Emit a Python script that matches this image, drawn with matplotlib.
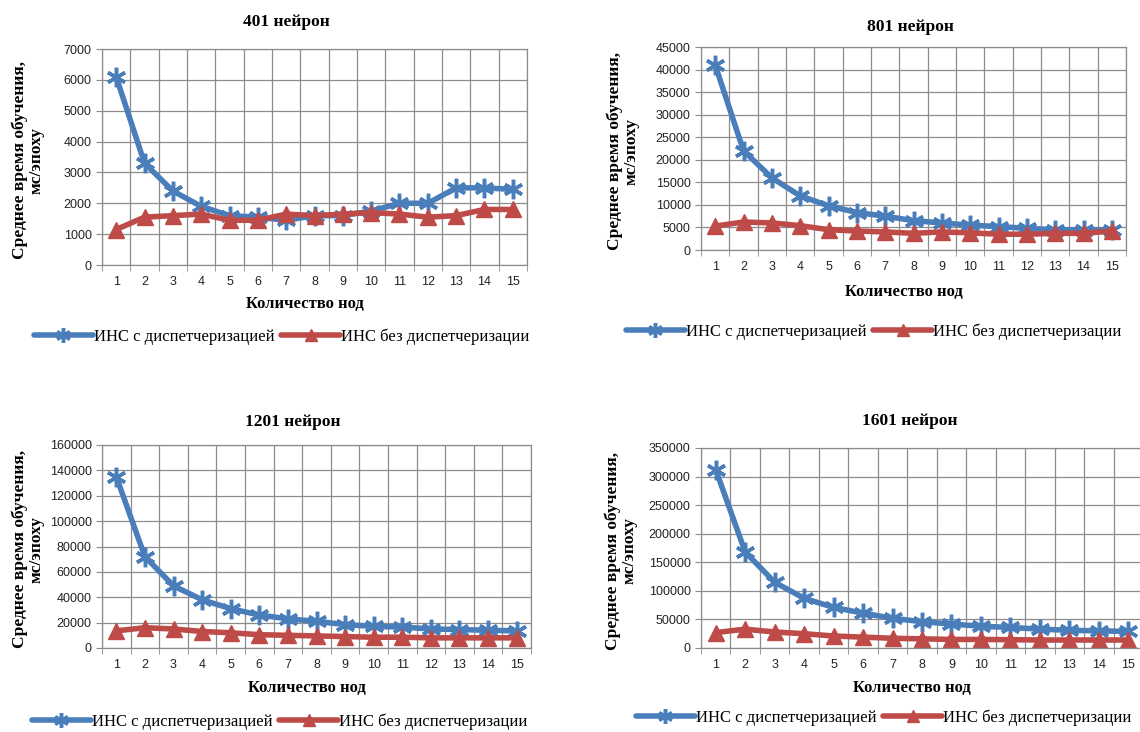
import numpy as np
import matplotlib
matplotlib.use('Agg')
import matplotlib.pyplot as plt

nodes = np.arange(1, 16)

# 401 neurons
with_401 = [6100, 3300, 2400, 1900, 1600, 1550, 1450, 1600, 1600, 1750, 2000, 2000, 2500, 2500, 2450]
without_401 = [1150, 1550, 1600, 1650, 1450, 1450, 1650, 1600, 1650, 1700, 1650, 1550, 1600, 1800, 1800]

# 801 neurons
with_801 = [41000, 22000, 16000, 12000, 9800, 8300, 7500, 6500, 6000, 5500, 5200, 4800, 4500, 4400, 4400]
without_801 = [5300, 6200, 6000, 5400, 4500, 4200, 4000, 3700, 4000, 3800, 3500, 3500, 3700, 3700, 4200]

# 1201 neurons
with_1201 = [135000, 72000, 49000, 38000, 31000, 26000, 23000, 21000, 18500, 17000, 16500, 15000, 14500, 14000, 13500]
without_1201 = [13500, 16000, 15000, 13000, 12000, 10500, 10000, 9500, 9000, 8500, 8500, 8000, 8000, 8000, 8000]

# 1601 neurons
with_1601 = [312000, 168000, 115000, 87000, 71000, 61000, 52000, 46000, 42000, 38000, 36000, 33000, 31000, 30000, 29000]
without_1601 = [27000, 33000, 28000, 25000, 21000, 19000, 17000, 16000, 15000, 15000, 14500, 14000, 14000, 14000, 14000]

titles = ['401 нейрон', '801 нейрон', '1201 нейрон', '1601 нейрон']
y_max = [7000, 45000, 160000, 350000]
y_step = [1000, 5000, 20000, 50000]
label_with = 'ИНС с диспетчеризацией'
label_without = 'ИНС без диспетчеризации'
xlabel = 'Количество нод'
ylabel = 'Среднее время обучения,\nмс/эпоху'

BLUE = '#4a7ebb'
RED = '#be4b48'
GRID = '#8c8c8c'
W, H = 1140, 732

fig = plt.figure(figsize=(W / 100, H / 100), dpi=100)

# pixel boxes: left, right, top, bottom of plot area
boxes = [(102, 527, 49, 265), (701, 1126, 47, 250), (102, 531, 445, 648), (701, 1143, 448, 648)]
title_pos = [(286, 22), (910, 27), (293, 422), (910, 421)]
ylabel_x = [28, 623, 28, 621]
xlabel_y = [304, 292, 688, 688]
legend_pos = [(282, 337), (874, 332), (280, 722), (884, 718)]

series = [(with_401, without_401), (with_801, without_801),
          (with_1201, without_1201), (with_1601, without_1601)]

serif = 'Liberation Serif'

for i, (a, b) in enumerate(series):
    l, r, t, btm = boxes[i]
    ax = fig.add_axes([l / W, 1 - btm / H, (r - l) / W, (btm - t) / H])
    ax.plot(nodes, a, color=BLUE, lw=4, marker=(6, 2, 0), ms=14, mew=2.5,
            mec=BLUE, label=label_with, solid_capstyle='round')
    ax.plot(nodes, b, color=RED, lw=4, marker='^', ms=11, mec=RED,
            label=label_without, solid_capstyle='round')
    ax.set_xlim(0.5, 15.5)
    ax.set_ylim(0, y_max[i])
    ax.set_xticks(nodes)
    ax.set_xticks(np.arange(0.5, 16, 1), minor=True)
    ax.set_yticks(np.arange(0, y_max[i] + 1, y_step[i]))
    ax.grid(True, which='minor', axis='x', color=GRID, lw=0.9)
    ax.grid(True, which='major', axis='y', color=GRID, lw=0.9)
    ax.tick_params(axis='x', which='major', length=0, pad=8, labelsize=9, labelcolor='#222222')
    ax.tick_params(axis='x', which='minor', length=4, color=GRID)
    ax.tick_params(axis='y', length=4, color=GRID, labelsize=9, labelcolor='#222222')
    for lab in ax.get_xticklabels() + ax.get_yticklabels():
        lab.set_family('Liberation Sans')
    for s in ax.spines.values():
        s.set_color(GRID)
        s.set_linewidth(0.9)
    ax.set_axisbelow(True)

    tx, ty = title_pos[i]
    fig.text(tx / W, 1 - ty / H, titles[i], ha='center', va='center',
             fontsize=12.5, fontweight='bold', family=serif)
    fig.text(ylabel_x[i] / W, 1 - ((t + btm) / 2 + 3) / H, ylabel, rotation=90,
             ha='center', va='center', fontsize=12.5, fontweight='bold',
             family=serif, linespacing=1.05)
    fig.text(((l + r) / 2 - 10) / W, 1 - xlabel_y[i] / H, xlabel, ha='center',
             va='center', fontsize=12, fontweight='bold', family=serif)
    lx, ly = legend_pos[i]
    ax.legend(loc='center', bbox_to_anchor=(lx / W, 1 - ly / H),
              bbox_transform=fig.transFigure, ncol=2, frameon=False,
              prop={'family': serif, 'size': 12}, handlelength=3.5,
              handletextpad=0.1, columnspacing=0.4, markerscale=0.75)

fig.savefig('out.png', dpi=100)
